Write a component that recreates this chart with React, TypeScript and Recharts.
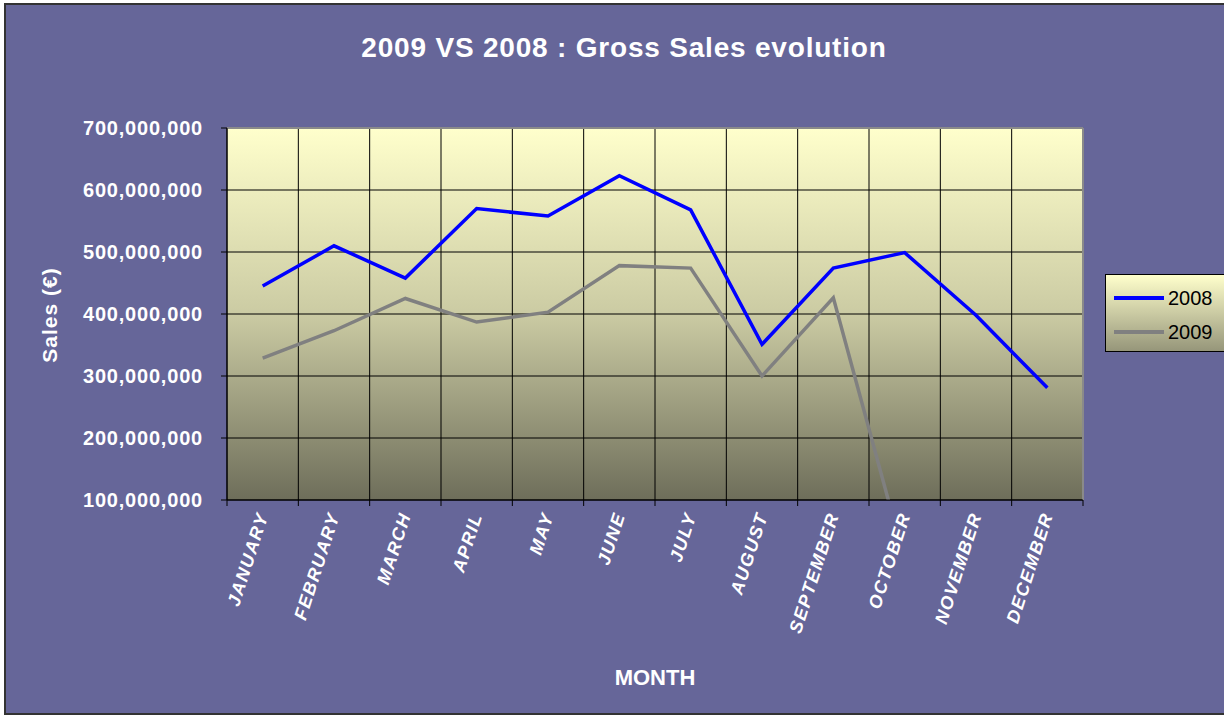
import { CartesianGrid, Label, Legend, Line, LineChart, ReferenceLine, XAxis, YAxis } from 'recharts'

const FONT = "Arial, 'Liberation Sans', sans-serif"

const months = [
  'JANUARY', 'FEBRUARY', 'MARCH', 'APRIL', 'MAY', 'JUNE',
  'JULY', 'AUGUST', 'SEPTEMBER', 'OCTOBER', 'NOVEMBER', 'DECEMBER',
]
const sales2008 = [
  445000000, 510000000, 458000000, 570000000, 558000000, 623000000,
  568000000, 351000000, 474000000, 499000000, 398000000, 281000000,
]
const sales2009 = [
  329000000, 373000000, 425000000, 387000000, 403000000, 478000000,
  474000000, 300000000, 426000000, 3000000, null, null,
]
const yTicks = [100000000, 200000000, 300000000, 400000000, 500000000, 600000000, 700000000]
const monthBoundaries = [0, 1, 2, 3, 4, 5, 6, 7, 8, 9, 10, 11, 12]

// pos = middle of each month's column on the boundary axis
const data = months.map((m, i) => ({ month: m, pos: i + 0.5, s2008: sales2008[i], s2009: sales2009[i] }))

function MonthTick({ x, y, payload }: any) {
  return (
    <text
      x={0}
      y={0}
      transform={`translate(${x + 6},${y + 14}) rotate(-72)`}
      textAnchor="end"
      fill="#fff"
      fontWeight="bold"
      fontStyle="italic"
      fontSize={18}
      letterSpacing={1.5}
      fontFamily={FONT}
    >
      {payload.value}
    </text>
  )
}

function LegendBox({ payload }: any) {
  return (
    <div
      style={{
        width: 140,
        height: 78,
        border: '1px solid #000',
        background: 'linear-gradient(#FFFFCC, #96967A)',
        fontFamily: FONT,
        fontSize: 20,
        color: '#000',
        boxSizing: 'border-box',
        paddingTop: 6,
      }}
    >
      {(payload ?? []).map((p: any) => (
        <div key={p.value} style={{ display: 'flex', alignItems: 'center', height: 34 }}>
          <svg width={62} height={10}>
            <line x1={8} y1={5} x2={58} y2={5} stroke={p.color} strokeWidth={4} />
          </svg>
          <span>{p.value}</span>
        </div>
      ))}
    </div>
  )
}

export default function App() {
  return (
    <div style={{ position: 'fixed', left: 0, top: 0, width: 1224, height: 717, overflow: 'hidden', background: '#fff' }}>
      <div
        style={{
          position: 'absolute',
          left: 4,
          top: 3,
          width: 1236,
          height: 708,
          border: '2px solid #333',
          background: '#666699',
          fontFamily: FONT,
        }}
      >
        <div
          style={{
            position: 'absolute',
            left: 0,
            top: 27,
            width: 1236,
            textAlign: 'center',
            color: '#fff',
            fontWeight: 'bold',
            fontSize: 28,
            letterSpacing: 0.8,
          }}
        >
          2009 VS 2008 : Gross Sales evolution
        </div>
        <div
          style={{
            position: 'absolute',
            left: 44,
            top: 310,
            transform: 'translate(-50%, -50%) rotate(-90deg)',
            color: '#fff',
            fontWeight: 'bold',
            fontSize: 21,
            letterSpacing: 1,
            whiteSpace: 'nowrap',
          }}
        >
          Sales (€)
        </div>
        <LineChart
          width={1236}
          height={708}
          data={data}
          margin={{ top: 123, right: 159, left: 0, bottom: 0 }}
        >
          <defs>
            <linearGradient id="plotBg" x1="0" y1="0" x2="0" y2="1">
              <stop offset="0%" stopColor="#FFFFCC" />
              <stop offset="50%" stopColor="#CBCBA3" />
              <stop offset="100%" stopColor="#6E6E5A" />
            </linearGradient>
          </defs>
          <CartesianGrid
            xAxisId="grid"
            stroke="#000"
            fill="url(#plotBg)"
            fillOpacity={1}
          />
          <XAxis
            xAxisId="grid"
            dataKey="pos"
            type="number"
            domain={[0, 12]}
            ticks={monthBoundaries}
            allowDataOverflow
            tick={{ fill: 'none' }}
            tickFormatter={() => ''}
            tickSize={6}
            height={1}
            stroke="#000"
          />
          <XAxis
            xAxisId="month"
            dataKey="month"
            scale="band"
            interval={0}
            axisLine={false}
            tickLine={false}
            tickSize={0}
            tickMargin={0}
            height={212}
            tick={<MonthTick />}
          >
            <Label
              value="MONTH"
              position="insideBottom"
              offset={28}
              fill="#fff"
              fontWeight="bold"
              fontSize={22}
              fontFamily={FONT}
            />
          </XAxis>
          <YAxis
            width={221}
            domain={[100000000, 700000000]}
            ticks={yTicks}
            allowDataOverflow
            stroke="#000"
            tickSize={6}
            tickMargin={18}
            tickFormatter={(v) => Number(v).toLocaleString('en-US')}
            tick={{ fill: '#fff', fontWeight: 'bold', fontSize: 20, fontFamily: FONT, letterSpacing: 0.8 }}
          />
          <ReferenceLine y={700000000} stroke="#8A8A8A" strokeWidth={2} xAxisId="grid" />
          <ReferenceLine x={12} stroke="#8A8A8A" strokeWidth={2} xAxisId="grid" />
          <Legend
            layout="vertical"
            align="center"
            verticalAlign="middle"
            content={<LegendBox />}
            wrapperStyle={{ left: 1099, top: 269, width: 140 }}
          />
          <Line
            xAxisId="month"
            dataKey="s2008"
            name="2008"
            stroke="#0000FF"
            strokeWidth={3.5}
            dot={false}
            activeDot={false}
            isAnimationActive={false}
          />
          <Line
            xAxisId="month"
            dataKey="s2009"
            name="2009"
            stroke="#808080"
            strokeWidth={3.5}
            dot={false}
            activeDot={false}
            isAnimationActive={false}
          />
        </LineChart>
      </div>
    </div>
  )
}
